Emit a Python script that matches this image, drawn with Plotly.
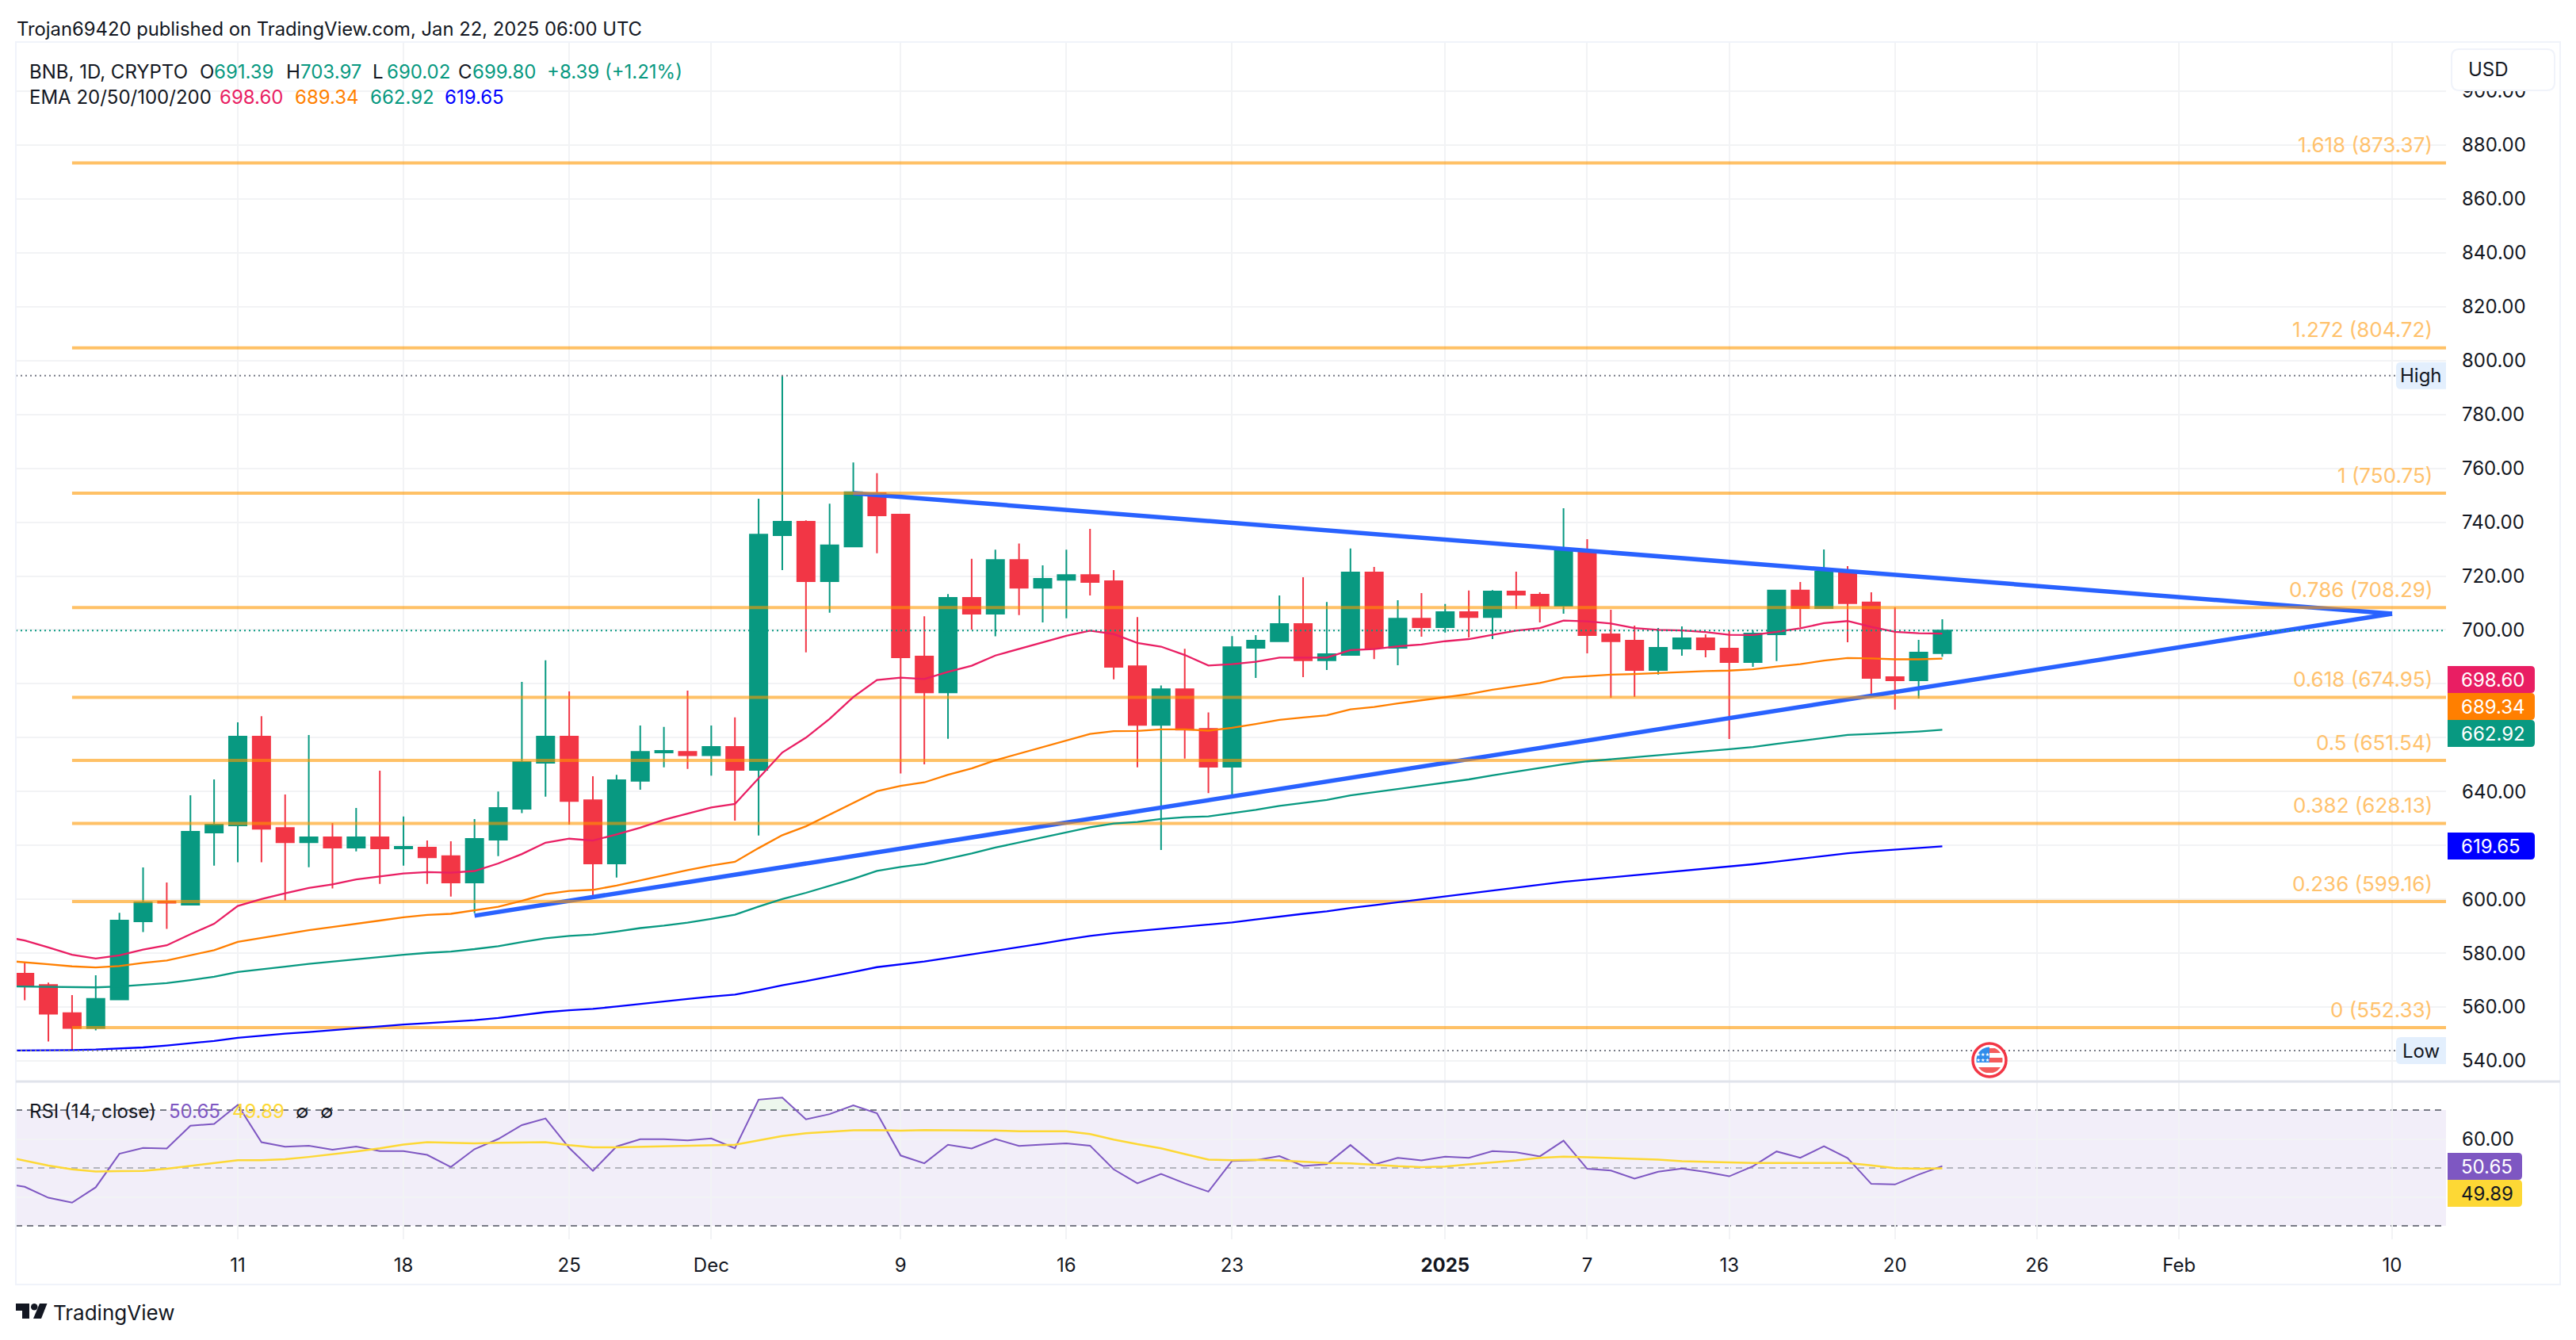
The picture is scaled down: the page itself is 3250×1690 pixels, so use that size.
import numpy as np
import pandas as pd
import plotly.graph_objects as go

W, H = 3250, 1690
dates = pd.date_range("2024-11-02", "2025-01-22", freq="D")
line_dates = pd.date_range("2024-11-01", "2025-01-22", freq="D")

opens = [572.4,568.2,557.7,552.2,562.8,591.8,599.2,598.0,624.8,627.4,660.4,626.5,621.2,623.0,619.2,623.0,618.9,619.2,616.0,606.2,622.1,633.6,650.7,660.4,636.8,613.3,644.0,654.5,654.7,
         653.5,656.6,648.0,735.2,740.2,718.1,731.0,750.8,742.8,690.1,676.8,711.9,706.0,726.0,715.7,718.6,720.4,718.1,686.5,664.7,678.0,663.3,649.2,693.4,695.8,702.2,688.7,690.7,721.3,693.4,704.2,
         701.0,706.6,704.8,714.3,713.1,709.0,729.6,698.4,696.0,685.1,693.1,696.9,693.1,688.1,698.4,714.6,708.1,721.6,710.2,682.5,681.3,691.39]
highs = [576.7,569.1,564.4,571.8,595.0,611.8,606.2,638.6,644.5,665.7,668.0,638.9,661.0,628.3,633.9,647.7,630.7,621.8,621.5,629.8,640.0,680.7,688.7,677.2,645.7,646.2,664.5,664.0,677.5,
         664.5,667.5,748.7,794.4,740.7,746.9,762.2,758.2,743.0,705.1,713.3,726.4,729.8,732.1,724.0,729.8,737.5,722.2,704.8,679.4,693.0,669.4,697.7,698.1,712.8,719.6,710.4,730.2,723.4,711.0,713.7,
         709.6,714.6,714.8,721.6,714.0,745.2,733.7,707.5,701.6,700.7,701.3,698.4,699.8,699.8,714.8,717.8,729.9,723.7,714.0,708.4,696.3,703.97]
lows = [562.5,547.2,543.8,551.3,562.8,587.8,589.0,598.0,612.5,613.7,613.7,599.5,611.9,604.0,617.8,605.7,612.5,605.7,601.0,594.8,616.0,632.0,638.1,627.7,600.3,608.1,640.7,649.0,648.4,
        645.9,629.2,623.7,722.2,691.7,706.4,731.0,728.5,646.7,650.1,659.6,700.1,697.6,705.5,702.8,704.3,712.8,681.7,649.0,618.3,652.2,639.4,637.6,682.2,695.8,682.5,685.1,690.7,689.2,686.9,697.5,
        699.0,697.2,696.6,707.8,702.8,706.0,691.3,674.8,675.1,683.4,690.4,689.8,659.5,686.3,688.4,701.0,708.1,695.4,675.6,670.4,674.5,690.02]
closes = [567.9,557.5,552.2,563.0,592.1,598.9,598.7,625.1,627.7,660.4,626.2,621.2,623.0,619.2,623.0,618.9,619.5,615.6,606.2,622.4,633.9,651.0,660.4,636.5,613.3,644.2,654.7,655.1,653.5,
          656.6,648.0,735.4,740.2,718.1,731.4,751.1,742.5,689.8,676.8,711.9,706.0,726.0,715.7,719.0,720.4,717.8,686.3,664.7,678.0,663.0,649.2,693.6,696.0,702.2,688.7,691.0,721.3,693.4,704.2,701.0,
          706.6,704.8,714.3,713.1,709.0,729.6,698.1,695.8,685.1,693.4,696.9,692.8,688.1,698.7,714.6,708.1,721.6,709.9,682.2,681.3,691.6,699.80]
change_text = "+8.39 (+1.21%)"

ema20 = [586.4,584.7,582.1,579.4,578.0,579.2,581.3,582.9,587.0,590.9,597.5,600.1,602.2,604.2,605.5,607.4,608.5,609.6,610.1,609.9,610.5,613.3,616.8,621.0,622.5,621.8,624.1,626.6,629.5,631.8,
         634.1,635.4,644.9,654.5,660.0,667.0,675.1,681.4,682.3,681.8,684.4,686.7,690.5,693.0,695.5,697.8,699.7,698.5,695.2,693.8,690.7,686.8,687.3,688.2,689.7,689.6,689.7,692.5,692.9,693.9,694.6,
         695.8,696.6,698.2,699.7,700.7,703.5,703.2,702.4,700.7,700.0,699.8,699.2,698.2,698.1,699.3,700.6,702.5,703.3,701.1,699.3,698.8,698.60]
ema50 = [577.3,576.7,575.9,575.1,574.7,575.2,576.4,577.3,579.1,581.1,584.2,585.7,587.1,588.5,589.7,591.0,592.1,593.3,594.2,594.6,595.8,597.2,599.4,601.9,603.1,603.5,605.1,607.0,609.0,610.8,
         612.5,613.9,619.0,623.8,627.1,631.5,635.9,640.1,642.1,643.4,646.2,648.6,651.6,654.1,656.4,659.1,661.4,662.4,662.5,663.1,663.1,662.6,663.7,665.1,666.6,667.5,668.3,670.5,671.4,672.7,673.8,
         675.0,676.2,677.8,679.1,680.3,682.3,682.9,683.4,683.6,684.0,684.4,684.7,684.9,685.4,686.4,687.3,688.6,689.6,689.4,689.1,689.1,689.34]
ema100 = [567.7,567.6,567.5,567.3,567.3,567.6,568.3,568.9,570.0,571.2,573.0,574.1,575.0,576.0,576.9,577.8,578.6,579.4,580.1,580.6,581.5,582.6,584.1,585.5,586.4,586.9,588.0,589.3,590.2,591.3,
          592.7,594.3,597.3,600.1,602.4,604.9,607.6,610.5,612.0,613.1,615.0,617.0,619.2,621.1,622.9,624.9,626.7,628.1,628.7,629.8,630.5,630.8,632.0,633.2,634.7,635.8,636.9,638.6,639.8,641.0,642.0,
          643.3,644.5,646.0,647.4,648.6,650.1,651.2,652.0,652.8,653.5,654.3,655.0,655.7,656.5,657.7,658.8,660.0,661.0,661.4,661.8,662.3,662.92]
ema200 = [543.8,543.8,543.9,544.0,544.2,544.5,545.0,545.7,546.6,547.4,548.6,549.4,550.1,550.7,551.4,552.2,552.8,553.5,554.0,554.5,555.1,555.9,557.1,558.1,558.8,559.3,560.2,561.2,562.1,563.0,
          563.9,564.6,566.2,568.1,569.6,571.2,573.0,574.8,575.8,576.9,578.2,579.5,580.9,582.3,583.6,585.1,586.4,587.4,588.2,589.0,589.7,590.4,591.4,592.5,593.6,594.6,595.5,596.8,597.8,598.9,599.9,
          601.0,602.0,603.1,604.2,605.3,606.5,607.3,608.1,608.8,609.6,610.4,611.2,612.1,613.0,614.0,615.0,616.0,617.1,617.8,618.4,619.1,619.65]
rsi = [44.8,43.5,39.7,38.0,43.3,54.9,56.9,56.7,64.6,65.2,71.8,58.9,57.3,57.7,56.3,57.4,55.8,55.8,54.5,50.3,56.5,60.0,64.8,67.1,56.9,49.0,57.4,59.9,59.9,59.5,
       60.2,56.8,73.6,74.3,66.8,68.6,71.6,68.9,54.3,51.6,58.0,56.7,60.0,57.6,58.1,58.5,57.7,49.5,44.7,47.9,44.7,41.8,52.4,52.7,54.1,50.7,51.3,57.9,51.2,53.5,52.6,
       53.9,53.5,55.8,55.4,54.0,59.4,49.7,49.1,46.3,48.7,49.8,48.6,47.1,50.6,55.7,53.5,57.5,53.4,44.5,44.3,47.7,50.65]
rsi_ma = [54.2,52.5,50.8,49.5,48.8,48.9,49.0,49.7,50.7,51.7,52.7,52.7,53.0,53.8,54.7,55.7,56.8,58.1,58.9,58.6,58.5,58.7,58.8,58.9,57.9,57.1,57.1,57.3,57.5,57.7,
          57.9,58.0,59.5,61.0,62.0,62.5,63.0,63.1,62.9,63.1,63.1,62.9,62.9,62.7,62.6,62.7,61.7,59.8,58.2,56.8,54.8,52.9,52.7,52.8,52.6,52.2,51.7,51.6,51.0,50.6,50.3,
          50.5,51.2,51.8,52.6,53.5,53.9,53.7,53.4,53.1,52.9,52.3,52.1,51.7,51.7,51.7,51.7,51.8,51.7,50.9,49.9,49.7,49.89]
for name, arr in [("o",opens),("h",highs),("l",lows),("c",closes)]:
    assert len(arr) == len(dates), (name, len(arr))
for name, arr in [("e20",ema20),("e50",ema50),("e100",ema100),("e200",ema200),("r",rsi),("m",rsi_ma)]:
    assert len(arr) == len(line_dates), (name, len(arr))

fib_ratios = ["1.618", "1.272", "1", "0.786", "0.618", "0.5", "0.382", "0.236", "0"]
fib_prices = [873.37, 804.72, 750.75, 708.29, 674.95, 651.54, 628.13, 599.16, 552.33]
fib_start = "2024-11-04"

upper_x = ["2024-12-07", "2025-02-10"]
upper_y = [750.75, 706.0]
lower_x = ["2024-11-21", "2025-02-10"]
lower_y = [593.9, 706.0]

price_ticks = list(range(540, 901, 20))
covered_ticks = [620, 660, 680]   # these labels lie under the value tags in the reference
price_text = ["" if v in covered_ticks else f"{v:.2f}" for v in price_ticks]
rsi_ticks = [40, 60]
rsi_text = ["", "60.00"]
time_vals = ["2024-11-11","2024-11-18","2024-11-25","2024-12-01","2024-12-09","2024-12-16","2024-12-23",
             "2025-01-01","2025-01-07","2025-01-13","2025-01-20","2025-01-26","2025-02-01","2025-02-10"]
time_text = ["11","18","25","Dec","9","16","23","<b>2025</b>","7","13","20","26","Feb","10"]

# geometry / style
FONT = "Inter"
INK = "#131722"
UP, DOWN = "#089981", "#F23645"
GRID = "#F2F3F5"
BORDER = "#F0F3FA"
FIB = "rgba(255,152,0,0.6)"
FIBTXT = "#FFC26D"
PX_L, PX_R, PX_T, PX_DIV, PX_B = 20, 3086, 54, 1364, 1563
PU = 3.397           # px per USD
Y880 = 183
RU = 3.65            # px per RSI point
Y50 = 1473

def px(x): return x / W
def py(y): return 1 - y / H

fig = go.Figure()

def add_line(x, y, color, width, axis="main", dash=None):
    fig.add_trace(go.Scatter(x=x, y=y, mode="lines", line=dict(color=color, width=width, dash=dash),
                             xaxis="x" if axis == "main" else "x2", yaxis="y" if axis == "main" else "y2",
                             hoverinfo="skip", showlegend=False))

x_end = "2025-02-12 06:39"
add_line(upper_x, upper_y, "#2962FF", 5.5)
add_line(lower_x, lower_y, "#2962FF", 5.5)
for p in fib_prices:
    add_line([fib_start, x_end], [p, p], FIB, 4)
add_line(line_dates, ema200, "#0000FF", 2.3)
add_line(line_dates, ema100, UP, 2.3)
add_line(line_dates, ema50, "#FF7F00", 2.3)
add_line(line_dates, ema20, "#E91E63", 2.3)

fig.add_trace(go.Candlestick(x=dates, open=opens, high=highs, low=lows, close=closes,
                             increasing=dict(line=dict(color=UP, width=2), fillcolor=UP),
                             decreasing=dict(line=dict(color=DOWN, width=2), fillcolor=DOWN),
                             whiskerwidth=0, hoverinfo="skip", showlegend=False, xaxis="x", yaxis="y"))

# RSI pane: light fill where RSI is above 70
t = np.array([d.value for d in line_dates], dtype=float)
r = np.array(rsi)
i = 0
while i < len(r):
    if r[i] > 70:
        j = i
        while j + 1 < len(r) and r[j + 1] > 70:
            j += 1
        tl = t[i-1] + (70 - r[i-1]) / (r[i] - r[i-1]) * (t[i] - t[i-1])
        tr = t[j] + (r[j] - 70) / (r[j] - r[j+1]) * (t[j+1] - t[j])
        xs = [pd.Timestamp(int(tl))] + list(line_dates[i:j+1]) + [pd.Timestamp(int(tr))]
        ys = [70] + list(r[i:j+1]) + [70]
        fig.add_trace(go.Scatter(x=xs, y=ys, mode="none", fill="toself", fillcolor="rgba(76,175,80,0.10)",
                                 xaxis="x2", yaxis="y2", hoverinfo="skip", showlegend=False))
        i = j + 1
    else:
        i += 1
add_line(line_dates, rsi, "#7E57C2", 2, axis="rsi")
add_line(line_dates, rsi_ma, "#FDD835", 2.5, axis="rsi")

shapes, notes = [], []

def hline(yref, value, color, dash, width=2, x1=1, layer="above"):
    shapes.append(dict(type="line", xref="x domain", yref=yref, x0=0, x1=x1, y0=value, y1=value,
                       line=dict(color=color, width=width, dash=dash), layer=layer))

def prect(x0, y0, x1, y1, fill, line=None, lw=0, layer="above"):
    shapes.append(dict(type="rect", xref="paper", yref="paper", x0=px(x0), x1=px(x1), y0=py(y0), y1=py(y1),
                       fillcolor=fill, line=dict(color=line or fill, width=lw), layer=layer))

def rounded(x0, y0, x1, y1, fill, rl=0, rr=0, line=None, lw=0):
    def P(x, y): return f"{px(x)},{py(y)}"
    d = (f"M{P(x0+rl,y0)} L{P(x1-rr,y0)} Q{P(x1,y0)} {P(x1,y0+rr)} L{P(x1,y1-rr)} Q{P(x1,y1)} {P(x1-rr,y1)} "
         f"L{P(x0+rl,y1)} Q{P(x0,y1)} {P(x0,y1-rl)} L{P(x0,y0+rl)} Q{P(x0,y0)} {P(x0+rl,y0)} Z")
    shapes.append(dict(type="path", xref="paper", yref="paper", path=d, fillcolor=fill,
                       line=dict(color=line or fill, width=lw), layer="above"))

def txt(x, y, s, color=INK, size=24, anchor="left", yshift=0, **kw):
    notes.append(dict(xref="paper", yref="paper", x=px(x), y=py(y), text=s, showarrow=False,
                      xanchor=anchor, yanchor="middle", borderpad=0, yshift=yshift,
                      font=dict(family=FONT, size=size, color=color), **kw))

# RSI band and levels
shapes.append(dict(type="rect", xref="x domain", yref="y2", x0=0, x1=1, y0=30, y1=70,
                   fillcolor="rgba(126,87,194,0.10)", line=dict(width=0), layer="below"))
hline("y2", 70, "#787B86", "8px,6px", layer="below")
hline("y2", 50, "#B4B5BE", "8px,6px", layer="below")
hline("y2", 30, "#787B86", "8px,6px", layer="below")

# price lines
hline("y", max(highs), "#787B86", "2px,4px", x1=(3023 - PX_L) / (PX_R - PX_L))
hline("y", min(lows), "#787B86", "2px,4px", x1=(3023 - PX_L) / (PX_R - PX_L))
hline("y", closes[-1], UP, "2px,4px")

# frames
prect(20, 52, 3230, 54, BORDER)
prect(20, 1619, 3230, 1621, BORDER)
prect(19, 52, 21, 1621, BORDER)
prect(3229, 52, 3231, 1621, BORDER)
prect(20, 1362.5, 3230, 1365.5, "#E0E3EB")

# USD box
rounded(3093, 62, 3223, 114, "#FFFFFF", rl=10, rr=10, line=BORDER, lw=2)
txt(3113, 88, "USD")

# High / Low tags
y_high = Y880 + (880 - max(highs)) * PU
y_low = Y880 + (880 - min(lows)) * PU
for label, yy in [("High", y_high), ("Low", y_low)]:
    rounded(3023, yy - 17, 3086, yy + 17, "#E3EFFD", rl=6)
    txt(3054.5, yy, label, anchor="center")

# axis value tags
for val, col, y0, y1 in [(ema20[-1], "#E91E63", 840, 874), (ema50[-1], "#FF7F00", 874, 908),
                         (ema100[-1], UP, 908, 942), (ema200[-1], "#0000FF", 1050, 1084)]:
    rounded(3088, y0, 3198, y1, col, rr=5)
    txt(3104, (y0 + y1) / 2, f"{val:.2f}", color="#FFFFFF")
for val, col, fc, y0, y1 in [(rsi[-1], "#7E57C2", "#FFFFFF", 1454, 1488), (rsi_ma[-1], "#FDD835", INK, 1488, 1522)]:
    rounded(3088, y0, 3182, y1, col, rr=5)
    txt(3104, (y0 + y1) / 2, f"{val:.2f}", color=fc)

# fib labels
for lab, p in zip(fib_ratios, fib_prices):
    notes.append(dict(xref="paper", yref="y", x=px(3070), y=p, text=f"{lab} ({p:.2f})", showarrow=False,
                      xanchor="right", yanchor="middle", yshift=23, borderpad=0,
                      font=dict(family=FONT, size=26, color=FIBTXT)))

# header text
txt(20, 36.5, "Trojan69420 published on TradingView.com, Jan 22, 2025 06:00 UTC", size=23.8)
txt(36, 90.5, "BNB, 1D, CRYPTO")
for x, lab, v in [(251, "O", opens[-1]), (360, "H", highs[-1]), (469, "L", lows[-1]), (577, "C", closes[-1])]:
    txt(x, 90.5, lab)
    txt(x + 18, 90.5, f"{v:.2f}", color=UP)
txt(689, 90.5, change_text, color=UP)
txt(36, 123, "EMA 20/50/100/200")
for x, v, c in [(275.5, ema20[-1], "#E91E63"), (370.5, ema50[-1], "#FF7F00"), (465.6, ema100[-1], UP), (560, ema200[-1], "#0000FF")]:
    txt(x, 123, f"{v:.2f}", color=c)
txt(36, 1401, "RSI (14, close)")
txt(212, 1401, f"{rsi[-1]:.2f}", color="#7E57C2")
txt(292, 1401, f"{rsi_ma[-1]:.2f}", color="#FDD835")
txt(372, 1401, "∅")
txt(403, 1401, "∅")

# TradingView logo
shapes.append(dict(type="path", xref="paper", yref="paper", fillcolor=INK, line=dict(width=0), layer="above",
                   path=f"M{px(20)},{py(1644)} L{px(37)},{py(1644)} L{px(37)},{py(1663)} L{px(28)},{py(1663)} L{px(28)},{py(1653)} L{px(20)},{py(1653)} Z"))
shapes.append(dict(type="circle", xref="paper", yref="paper", x0=px(39), x1=px(47.5), y0=py(1644), y1=py(1652.5),
                   fillcolor=INK, line=dict(width=0), layer="above"))
shapes.append(dict(type="path", xref="paper", yref="paper", fillcolor=INK, line=dict(width=0), layer="above",
                   path=f"M{px(50)},{py(1644)} L{px(59.5)},{py(1644)} L{px(52)},{py(1663)} L{px(42)},{py(1663)} Z"))
txt(66, 1655, "TradingView", size=26)

# event flag icon
cx, cy, R = 2510, 1337, 21
shapes.append(dict(type="circle", xref="paper", yref="paper", x0=px(cx-R), x1=px(cx+R), y0=py(cy-R), y1=py(cy+R),
                   fillcolor="#FFFFFF", line=dict(color=DOWN, width=3.5), layer="above"))
r_in = 16.5
def chord(y0, y1, x_min=-99, color="#F45B5B"):
    pts = []
    ys = np.linspace(y0, y1, 10)
    for yy in ys:
        pts.append((cx + max(x_min, -np.sqrt(max(r_in**2 - yy**2, 0))), cy + yy))
    for yy in ys[::-1]:
        pts.append((cx + np.sqrt(max(r_in**2 - yy**2, 0)), cy + yy))
    path = "M" + " L".join(f"{px(a)},{py(b)}" for a, b in pts) + " Z"
    shapes.append(dict(type="path", xref="paper", yref="paper", path=path, fillcolor=color, line=dict(width=0), layer="above"))
chord(-15, -9, x_min=0)
chord(-3, 3, x_min=0)
chord(9, 16)
pts = [(cx, cy + 3)] + [(cx - np.sqrt(max(r_in**2 - yy**2, 0)), cy + yy) for yy in np.linspace(3, -16, 10)] + [(cx, cy - 16.5)]
shapes.append(dict(type="path", xref="paper", yref="paper", fillcolor="#2F8CEB", line=dict(width=0), layer="above",
                   path="M" + " L".join(f"{px(a)},{py(b)}" for a, b in pts) + " Z"))
txt(cx - 8.5, cy - 7.5, "★★★", color="#FFFFFF", size=5.5, anchor="center")
txt(cx - 8.5, cy - 0.5, "★★★", color="#FFFFFF", size=5.5, anchor="center")

axis_font = dict(family=FONT, size=24, color=INK)
dom_x = [px(PX_L), px(PX_R)]
fig.update_layout(
    width=W, height=H, margin=dict(l=0, r=0, t=0, b=0), paper_bgcolor="#FFFFFF", plot_bgcolor="#FFFFFF",
    hovermode=False, showlegend=False, boxgap=1 - 22 / 29.87, boxgroupgap=0, boxmode="group",
    font=dict(family=FONT, color=INK),
    xaxis=dict(type="date", domain=dom_x, anchor="y", matches="x2", showticklabels=False, ticks="",
               tickmode="array", tickvals=time_vals, showgrid=True, gridcolor=GRID, gridwidth=2, zeroline=False,
               rangeslider=dict(visible=False), showline=False),
    xaxis2=dict(type="date", domain=dom_x, anchor="y2", range=["2024-11-01 15:01", x_end],
                tickmode="array", tickvals=time_vals, ticktext=time_text, ticks="", tickfont=axis_font,
                ticklabelstandoff=16, showgrid=True, gridcolor=GRID, gridwidth=2, zeroline=False,
                rangeslider=dict(visible=False), showline=False),
    yaxis=dict(domain=[py(PX_DIV), py(PX_T)], anchor="x", side="right",
               range=[880 - (PX_DIV - Y880) / PU, 880 + (Y880 - PX_T) / PU],
               tickmode="array", tickvals=price_ticks, ticktext=price_text, ticks="", tickfont=axis_font,
               ticklabelstandoff=19, showgrid=True, gridcolor=GRID, gridwidth=2, zeroline=False, showline=False),
    yaxis2=dict(domain=[py(PX_B), py(PX_DIV)], anchor="x2", side="right",
                range=[50 - (PX_B - Y50) / RU, 50 + (Y50 - PX_DIV) / RU],
                tickmode="array", tickvals=rsi_ticks, ticktext=rsi_text, ticks="", tickfont=axis_font,
                ticklabelstandoff=19, showgrid=True, gridcolor=GRID, gridwidth=2, zeroline=False, showline=False),
    shapes=shapes, annotations=notes,
)

fig.write_html("out.html", config={"displayModeBar": False},
               post_script="document.body.style.margin='0';document.body.style.background='#fff';")
